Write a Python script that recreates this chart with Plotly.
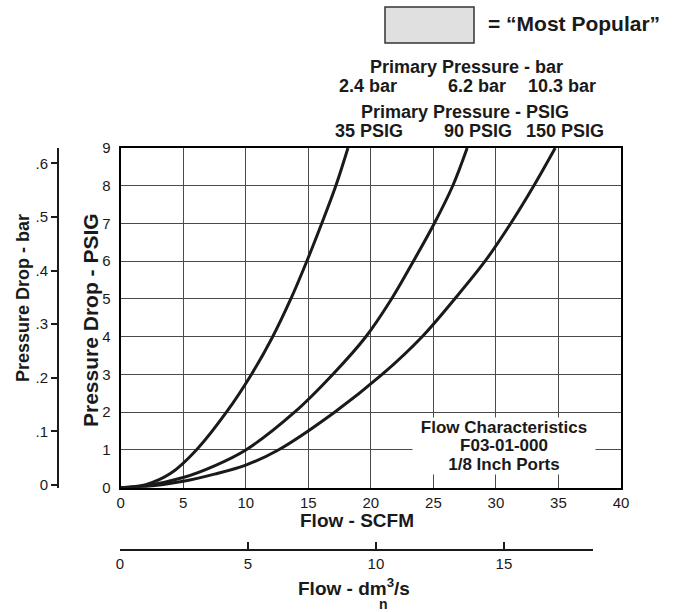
import plotly.graph_objects as go

# ---------------- data ----------------
flow_35psig = [0, 2, 4, 6.05, 8.45, 10.45, 12.15, 13.6, 14.88, 16.07, 17.2, 18.17]
drop_35psig = [0, 0.08, 0.38, 1, 2, 3, 4, 5, 6, 7, 8, 9]

flow_90psig = [0, 2, 5, 7.5, 10, 13.9, 16.95, 19.6, 21.65, 23.4, 25.07, 26.55, 27.7]
drop_90psig = [0, 0.05, 0.27, 0.58, 1, 2, 3, 4, 5, 6, 7, 8, 9]

flow_150psig = [0, 2, 5, 7.5, 10, 12.6, 17.1, 20.9, 24.1, 26.7, 29.13, 31.18, 33.03, 34.74]
drop_150psig = [0, 0.03, 0.17, 0.36, 0.6, 1, 2, 3, 4, 5, 6, 7, 8, 9]

scfm_ticks = [0, 5, 10, 15, 20, 25, 30, 35, 40]
psig_ticks = [0, 1, 2, 3, 4, 5, 6, 7, 8, 9]
bar_ticks = [0, 0.1, 0.2, 0.3, 0.4, 0.5, 0.6]
bar_tick_labels = ["0", ".1", ".2", ".3", ".4", ".5", ".6"]
dm3_ticks = [0, 5, 10, 15]

header_bar = ["2.4 bar", "6.2 bar", "10.3 bar"]
header_psig = ["35 PSIG", "90 PSIG", "150 PSIG"]
info_lines = ["Flow Characteristics", "F03-01-000", "1/8 Inch Ports"]

# ---------------- layout helpers ----------------
W, H = 673, 612
ML, MR, MT, MB = 20, 52, 148, 20
PW, PH = W - ML - MR, H - MT - MB


def px(xp):
    return (xp - ML) / PW


def py(yp):
    return (H - MB - yp) / PH


FONT = "Liberation Sans, Arial, sans-serif"
INK = "#1a1a1a"

fig = go.Figure()
for fx, dy in [(flow_35psig, drop_35psig), (flow_90psig, drop_90psig), (flow_150psig, drop_150psig)]:
    fig.add_trace(go.Scatter(x=fx, y=dy, mode="lines",
                             line=dict(color=INK, width=3, shape="spline", smoothing=1.0),
                             hoverinfo="skip", showlegend=False))

# invisible anchors so the secondary axes are drawn
fig.add_trace(go.Scatter(x=[0], y=[0], xaxis="x2", yaxis="y3", mode="markers",
                         marker=dict(opacity=0), hoverinfo="skip", showlegend=False))
fig.add_trace(go.Scatter(x=[0], y=[0], xaxis="x", yaxis="y2", mode="markers",
                         marker=dict(opacity=0), hoverinfo="skip", showlegend=False))

tickfont = dict(family=FONT, size=15, color=INK)

fig.update_layout(
    width=W, height=H,
    margin=dict(l=ML, r=MR, t=MT, b=MB, pad=0),
    paper_bgcolor="white", plot_bgcolor="rgba(0,0,0,0)",
    font=dict(family=FONT, color=INK),
    showlegend=False,
    xaxis=dict(domain=[px(120.7), 1], range=[0, 40], tickvals=scfm_ticks,
               showgrid=True, gridcolor="#4a4a4a", gridwidth=1, zeroline=False,
               showline=True, mirror=True, linecolor="black", linewidth=2,
               ticks="", tickfont=tickfont, automargin=False, anchor="y"),
    yaxis=dict(domain=[py(487.7), 1], range=[0, 9], tickvals=psig_ticks,
               showgrid=True, gridcolor="#4a4a4a", gridwidth=1, zeroline=False,
               showline=True, mirror=True, linecolor="black", linewidth=2,
               ticks="outside", ticklen=5, tickcolor="rgba(0,0,0,0)",
               tickfont=tickfont, automargin=False, anchor="x"),
    yaxis2=dict(overlaying="y", anchor="free", position=px(58), side="left",
                range=[-0.005, 0.6285], tickvals=bar_ticks, ticktext=bar_tick_labels,
                showgrid=False, zeroline=False, showline=True, linecolor=INK, linewidth=2,
                ticks="outside", ticklen=6, tickwidth=1.5, tickcolor=INK,
                tickfont=dict(family=FONT, size=15, color=INK), automargin=False),
    xaxis2=dict(domain=[px(120), px(593)], anchor="free", position=py(550), side="bottom",
                range=[0, 18.48], tickvals=dm3_ticks,
                showgrid=False, zeroline=False, showline=True, linecolor=INK, linewidth=2,
                ticks="inside", ticklen=7, tickwidth=1.5, tickcolor=INK,
                tickfont=dict(family=FONT, size=15, color=INK), automargin=False),
    yaxis3=dict(domain=[0, 0.002], anchor="x2", visible=False, range=[1, 2]),
)

ann = []


def text(xp, yp, s, size, bold=True, xanchor="center", yanchor="middle", angle=0, **kw):
    t = f"<b>{s}</b>" if bold else s
    ann.append(dict(x=px(xp), y=py(yp), xref="paper", yref="paper", text=t,
                    showarrow=False, xanchor=xanchor, yanchor=yanchor, textangle=angle,
                    font=dict(family=FONT, size=size, color=INK), **kw))


# legend box text
text(486, 23, "= \u201cMost Popular\u201d", 21, xanchor="left")
# headers
text(466, 67, "Primary Pressure - bar", 18)
for xp, s in zip([368, 477, 562], header_bar):
    text(xp, 86, s, 18)
text(465, 112, "Primary Pressure - PSIG", 18)
for xp, s in zip([369, 478, 565], header_psig):
    text(xp, 131, s, 18)
# axis titles
text(90, 320, "Pressure Drop - PSIG", 21, angle=-90)
text(23, 298, "Pressure Drop - bar", 18, angle=-90)
text(357, 520, "Flow - SCFM", 19)
text(354, 587, "Flow - dm<sup>3</sup>/s", 19)
text(383, 604, "n", 14)
# info box (three stacked lines on a white panel)
for yp, s in zip([427, 445.5, 464], info_lines):
    text(504, yp, s, 17, bgcolor="white", borderpad=0, width=182, height=19)

fig.update_layout(annotations=ann)

# "Most Popular" swatch
fig.add_shape(type="rect", xref="paper", yref="paper",
              x0=px(385), x1=px(474), y0=py(43), y1=py(7),
              fillcolor="#e0e0e0", line=dict(color="#333333", width=1.5))

fig.write_html("out.html", config={"displayModeBar": False},
               post_script="document.body.style.margin='0';")
